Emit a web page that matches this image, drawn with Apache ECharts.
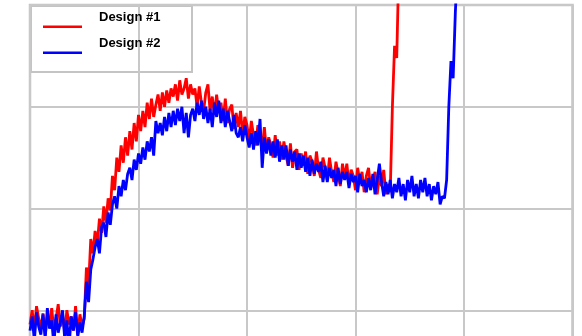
<!DOCTYPE html>
<html>
<head>
<meta charset="utf-8">
<script src="https://cdn.jsdelivr.net/npm/echarts@6/dist/echarts.min.js"></script>
<style>
 html, body { margin: 0; padding: 0; background: #fff; overflow: hidden; }
 #chart { width: 582px; height: 420px; }
</style>
</head>
<body>
<div id="chart"></div>
<script>
// samples are taken every 2 units along x, starting at 0
const xStep = 2;

const seriesNames = ['Design #1', 'Design #2'];

const design1 = [
 86, 100, 80, 104, 92, 82, 97, 76, 94, 88,
 102, 80, 92, 106, 84, 96, 78, 100, 86, 94,
 80, 104, 76, 96, 84, 92,
 142, 124, 170, 156, 178, 165, 190, 176, 202, 186,
 210, 198, 232, 218, 250, 236, 262, 245, 270, 252,
 276, 258, 284, 266, 292, 276, 296, 280, 304, 288,
 308, 290, 302, 312, 296, 314, 300, 316, 304, 318,
 310, 322, 306, 326, 312, 318, 328, 308, 322, 312,
 318, 300, 320, 304, 296, 314, 322, 296, 310, 292,
 312, 294, 304, 286, 308, 284, 298, 302, 278, 294,
 280, 296, 272, 290, 282, 266, 286, 272, 262, 282,
 272, 258, 280, 256, 270, 262, 250, 272, 252, 266,
 248, 266, 252, 242, 264, 240, 256, 258, 238, 254,
 242, 256, 234, 252, 246, 232, 256, 238, 230, 250,
 240, 228, 250, 236, 226, 246, 234, 222, 244, 230,
 244, 224, 238, 232, 218, 240, 226, 236, 216, 232,
 240, 220, 226, 236, 214, 232, 222, 238, 214, 224,
 216, 300, 360, 348, 440
];

const design2 = [
 80, 94, 70, 98, 84, 76, 96, 72, 102, 82,
 90, 66, 96, 78, 88, 100, 72, 90, 64, 94,
 80, 98, 74, 88, 78, 94,
 128, 108, 140, 150, 162, 170, 156, 182, 186, 172,
 196, 184, 204, 212, 200, 222, 212, 228, 218, 234,
 240, 228, 248, 238, 254, 244, 260, 248, 266, 256,
 270, 252, 286, 274, 284, 272, 290, 276, 294, 280,
 296, 282, 298, 286, 300, 274, 294, 270, 292, 298,
 286, 304, 292, 306, 288, 300, 284, 298, 280, 304,
 290, 306, 284, 298, 280, 296, 286, 276, 292, 274,
 270, 280, 266, 282, 270, 260, 274, 258, 276, 262,
 288, 240, 270, 254, 268, 252, 266, 250, 268, 246,
 262, 248, 262, 242, 258, 246, 256, 238, 254, 240,
 252, 236, 250, 232, 248, 234, 244, 236, 246, 226,
 242, 226, 240, 230, 238, 222, 240, 224, 236, 228,
 236, 220, 234, 226, 232, 216, 234, 222, 228, 216,
 230, 218, 234, 214, 228, 244, 226, 212, 226, 214,
 228, 210, 224, 216, 230, 212, 224, 208, 228, 216,
 232, 212, 224, 210, 228, 216, 230, 212, 224, 208,
 222, 214, 226, 204, 212, 210, 228, 300, 345, 328,
 392, 440
];

const colors = ['#ff0000', '#0000ff'];
const gridColor = '#c8c8c8';

const toPairs = (ys) => ys.map((y, i) => [i * xStep, y]);

const chart = echarts.init(document.getElementById('chart'), null, { renderer: 'canvas' });

const axisCommon = {
 type: 'value',
 interval: 100,
 axisLine: { show: false },
 axisTick: { show: false },
 axisLabel: { show: false },
 splitLine: { show: true, lineStyle: { color: gridColor, width: 2 } },
};

chart.setOption({
 animation: false,
 backgroundColor: '#fff',
 grid: {
  left: 30,
  top: 5,
  width: 542.5,
  height: 407,
  show: true,
  borderColor: '#c4c4c4',
  borderWidth: 2.5,
  outerBoundsMode: 'none',
 },
 xAxis: { ...axisCommon, min: 0, max: 500 },
 yAxis: { ...axisCommon, min: 0, max: 400 },
 legend: {
  data: seriesNames,
  orient: 'vertical',
  left: 43,
  top: 6.5,
  padding: 0,
  itemGap: 4.5,
  // short bar drawn low in a taller box so the label sits above the line
  icon: 'path://M0,0 L0,0 M0,19 L39,19 L39,21.5 L0,21.5 Z',
  itemWidth: 39,
  itemHeight: 21.5,
  textStyle: {
   color: '#000',
   fontWeight: 'bold',
   fontSize: 13,
   fontFamily: 'Liberation Sans, Arial, sans-serif',
   padding: [0, 0, 0, 12],
  },
 },
 graphic: [{
  type: 'rect',
  shape: { x: 31, y: 6, width: 161, height: 66 },
  style: { fill: 'none', stroke: '#c4c4c4', lineWidth: 2 },
  silent: true,
 }],
 series: [design1, design2].map((ys, i) => ({
  name: seriesNames[i],
  type: 'line',
  showSymbol: false,
  symbol: 'none',
  clip: true,
  color: colors[i],
  lineStyle: { color: colors[i], width: 2.8 },
  data: toPairs(ys),
 })),
});
</script>
</body>
</html>
